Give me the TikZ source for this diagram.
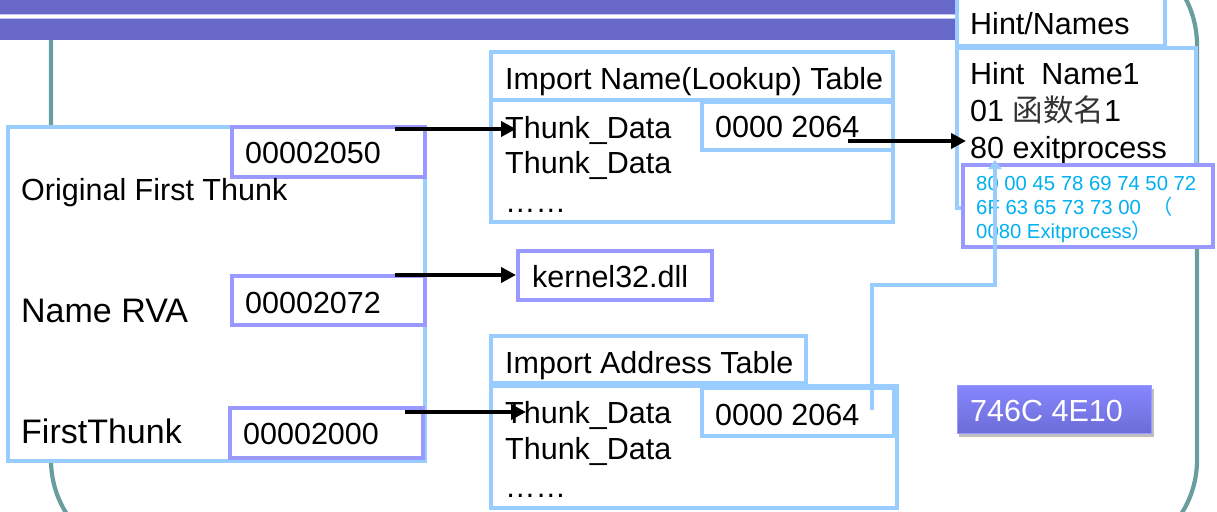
\documentclass[tikz,border=0pt]{standalone}
\usepackage{fontspec}
\setmainfont{Liberation Sans}
\newfontfamily\cjk{Noto Sans CJK SC}
\usetikzlibrary{arrows.meta}
\definecolor{bandcol}{HTML}{6868C8}
\definecolor{frameteal}{HTML}{6A9E9E}
\definecolor{lblue}{HTML}{99CCFF}
\definecolor{lpurple}{HTML}{9999FF}
\definecolor{cyantext}{HTML}{00B0F0}
\definecolor{addrtop}{HTML}{8787FF}
\definecolor{addrbot}{HTML}{6C6CD6}
\begin{document}
\begin{tikzpicture}[x=1pt,y=-1pt,
  box/.style={draw=#1, line width=3.2pt, fill=white, anchor=north west, inner sep=0pt, outer sep=0pt},
  bluebox/.style={box=lblue},
  purplebox/.style={box=lpurple},
  txt/.style={anchor=base west, inner sep=0pt, font=\fontsize{30.5}{36}\selectfont},
  bigtxt/.style={anchor=base west, inner sep=0pt, font=\fontsize{34}{40}\selectfont},
  hextxt/.style={anchor=base west, inner sep=0pt, font=\fontsize{20.3}{24}\selectfont, text=cyantext},
  blackarrow/.style={line width=4.8pt, -{Triangle[length=15pt,width=15pt]}},
  bluearrow/.style={draw=lblue, line width=4.5pt, -{Triangle[length=9pt,width=13pt]}}
]
\useasboundingbox (0,0) rectangle (1217,511);
\clip (0,0) rectangle (1217,511);
\fill[white] (0,0) rectangle (1217,511);

% frame
\draw[frameteal, line width=4.2pt, rounded corners=100pt] (51,-55) rectangle (1197,560);
% title bands
\fill[bandcol] (0,0) rectangle (960,40);
\fill[white] (0,14.5) rectangle (960,18.5);
\draw[lpurple!60, line width=0.8pt] (0,14.5) -- (960,14.5) (0,18.5) -- (960,18.5);

% left box
\node[bluebox, minimum width=417pt, minimum height=334pt] (leftbox) at (8,127) {};
\node[purplebox, minimum width=193pt, minimum height=50pt] (b2050) at (232,127) {};
\node[purplebox, minimum width=193pt, minimum height=49pt] (b2072) at (232,276) {};
\node[purplebox, minimum width=193pt, minimum height=50pt] (b2000) at (230,408) {};
\node[txt] (oft) at (21,200) {Original First Thunk};
\node[bigtxt] (nrva) at (21,322) {Name RVA};
\node[bigtxt] (fth) at (21,443) {FirstThunk};
\node[txt] (t2050) at (245,163) {00002050};
\node[txt] (t2072) at (245,313) {00002072};
\node[txt] (t2000) at (243,444) {00002000};

% import name table
\node[bluebox, minimum width=402pt, minimum height=48pt] (inth) at (491,52) {};
\node[bluebox, minimum width=402pt, minimum height=122pt] (intb) at (491,100) {};
\node[bluebox, minimum width=191pt, minimum height=48pt] (intv) at (702,102) {};
\node[txt] (inttitle) at (505,89) {Import Name(Lookup) Table};
\node[txt] (intd1) at (505,138) {Thunk\_Data};
\node[txt] (intd2) at (505,173) {Thunk\_Data};
\node[txt] (intd3) at (505,212) {……};
\node[txt] (intval) at (715,137) {0000 2064};

% kernel32
\node[purplebox, minimum width=194pt, minimum height=49pt] (kern) at (518,251) {};
\node[txt] (kerntxt) at (532,287) {kernel32.dll};

% import address table
\node[bluebox, minimum width=315pt, minimum height=47pt] (iath) at (491,336) {};
\node[bluebox, minimum width=406pt, minimum height=122pt] (iatb) at (491,386) {};
\node[bluebox, minimum width=192pt, minimum height=48pt] (iatv) at (702,388) {};
\node[txt] (iattitle) at (505,373) {Import Address Table};
\node[txt] (iatd1) at (505,423) {Thunk\_Data};
\node[txt] (iatd2) at (505,459) {Thunk\_Data};
\node[txt] (iatd3) at (505,497) {……};
\node[txt] (iatval) at (715,425) {0000 2064};

% hint/names
\node[bluebox, minimum width=208pt, minimum height=51pt] (hnh) at (957,-5) {};
\node[bluebox, minimum width=239pt, minimum height=160pt] (hnb) at (957,48) {};
\node[txt] (hntitle) at (970,35) {Hint/Names};
\node[txt] (hn1) at (970,84) {Hint~ Name1};
\node[txt] (hn2) at (970,121) {01 {\cjk\color{black!80}函数名}1};
\node[txt] (hn3) at (970,158) {80 exitprocess};

% hex box
\node[purplebox, minimum width=250pt, minimum height=82pt] (hexbox) at (963,165) {};
\node[hextxt] (hex1) at (976,190) {80 00 45 78 69 74 50 72};
\node[hextxt] (hex2) at (976,214) {6F 63 65 73 73 00 \ {\cjk （}};
\node[hextxt] (hex3) at (976,238) {0080 Exitprocess{\cjk ）}};

% address box
\fill[black, opacity=0.25] (959,389) rectangle (1154,437);
\node[anchor=north west, inner sep=0pt, minimum width=194pt, minimum height=48pt,
      top color=addrtop, bottom color=addrbot, draw=lpurple, line width=0.8pt] (addr) at (957,385) {};
\node[txt, text=white] (addrtxt) at (970,421) {746C 4E10};

% connectors
\coordinate (s1) at (395,129);
\coordinate (e1) at (516,129);
\coordinate (s2) at (395,275);
\coordinate (e2) at (516,275);
\coordinate (s3) at (405,412);
\coordinate (e3) at (526,412);
\coordinate (s4) at (848,141);
\coordinate (e4) at (966,141);
\coordinate (lbs) at (872,410);
\coordinate (lbe) at (995,160);
\draw[blackarrow] (s1) -- (e1);
\draw[blackarrow] (s2) -- (e2);
\draw[blackarrow] (s3) -- (e3);
\draw[blackarrow] (s4) -- (e4);
\draw[bluearrow] (lbs) -- ++(0,-125) -| (lbe);
\end{tikzpicture}
\end{document}
